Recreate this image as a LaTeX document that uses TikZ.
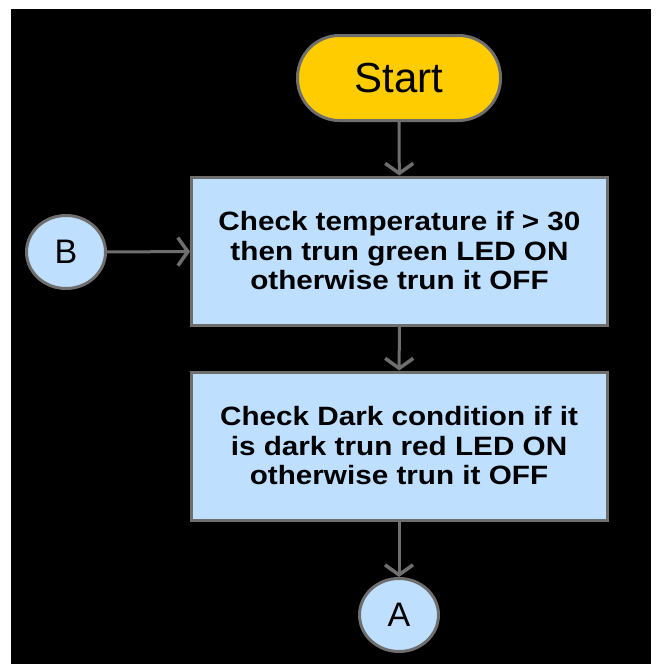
\documentclass[tikz,border=0pt]{standalone}
\usepackage{fontspec}
\setmainfont{Liberation Sans}
\newfontfamily\boxfont[FakeStretch=1.12]{Liberation Sans}
\usetikzlibrary{arrows.meta,shapes.geometric}
\definecolor{edgegray}{HTML}{6E6E6E}
\definecolor{startyellow}{HTML}{FFCC00}
\definecolor{stepblue}{HTML}{BFDFFF}
\tikzset{
  flowline/.style={draw=edgegray, line width=3pt,
    -{Straight Barb[length=10pt,width=28pt,line width=3.5pt]}},
  terminal/.style={draw=edgegray, fill=startyellow, line width=3pt,
    rounded corners=42pt, minimum width=203pt, minimum height=85pt,
    inner sep=0pt, font=\fontsize{42}{46}\selectfont},
  stepbox/.style={draw=edgegray, fill=stepblue, line width=3pt,
    minimum width=416pt, minimum height=148pt, inner sep=0pt, align=center,
    font=\fontsize{26.5}{29.5}\selectfont\boxfont\bfseries},
  connector/.style={draw=edgegray, fill=stepblue, line width=3pt,
    ellipse, minimum width=79pt, minimum height=73pt, inner sep=0pt,
    font=\fontsize{34}{38}\selectfont}
}
\begin{document}
\begin{tikzpicture}[x=1pt, y=-1pt]
  \useasboundingbox (0,0) rectangle (657,664);
  \fill[white] (0,0) rectangle (657,664);
  \fill[black] (11,9) rectangle (651,664);

  \node[terminal] (start) at (399,78) {Start};
  \node[stepbox] (temp) at (399.5,251)
    {Check temperature if > 30\\then trun green LED ON\\otherwise trun it OFF};
  \node[stepbox] (dark) at (399,446)
    {Check Dark condition if it\\is dark trun red LED ON\\otherwise trun it OFF};
  \node[connector] (b) at (66,252) {B};
  \node[connector] (a) at (399,615) {A};

  \draw[flowline] (start) -- (temp);
  \draw[flowline] (temp) -- (dark);
  \draw[flowline] (dark) -- (a);
  \draw[flowline] (b) -- (temp);
\end{tikzpicture}
\end{document}
